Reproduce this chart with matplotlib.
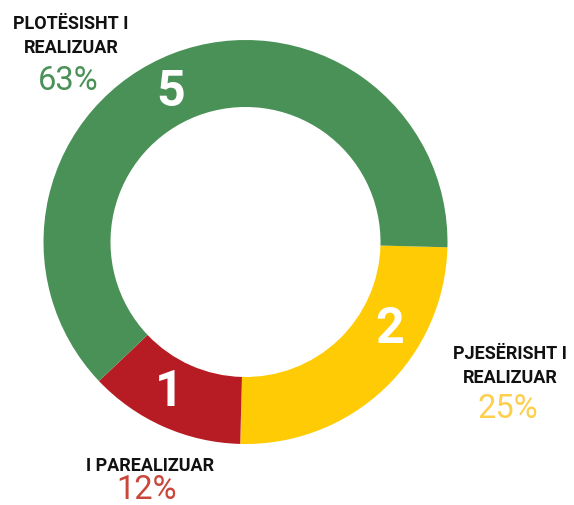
import numpy as np
import matplotlib.pyplot as plt

# data
counts = [2, 1, 5]
names = ["PJESËRISHT I\nREALIZUAR", "I PAREALIZUAR", "PLOTËSISHT I\nREALIZUAR"]
percents = ["25%", "12%", "63%"]
colors = ["#ffcb05", "#b71c24", "#4a9158"]
pct_colors = ["#fdcf4c", "#c9463a", "#4a9158"]

plt.rcParams['font.family'] = ['Roboto', 'DejaVu Sans']

fig = plt.figure(figsize=(5.74, 5.06), dpi=100)
ax = fig.add_axes([0, 0, 1, 1])

cx, cy = 245.5, 263
R = 202
width = 67

ax.pie(counts, colors=colors, startangle=-1.5, counterclock=False,
       radius=R, center=(cx, cy),
       wedgeprops=dict(width=width, edgecolor="none", linewidth=0))

ax.set_aspect("equal")
ax.set_xlim(0, 574)
ax.set_ylim(0, 506)
ax.axis("off")

# count labels inside the ring
num_angles = [-31, -117, 116.5]
num_r = 168
for n, a in zip(counts, num_angles):
    t = np.deg2rad(a)
    ax.text(cx + num_r * np.cos(t), cy + num_r * np.sin(t), str(n),
            ha="center", va="center", color="white",
            fontsize=36, fontweight="bold")

# outside labels
name_pos = [(510, 506 - 366), (150, 506 - 466), (71, 506 - 36)]
pct_pos = [(508, 506 - 409), (147, 506 - 490), (68, 506 - 81)]
for nm, p, c, (nx, ny), (px, py) in zip(names, percents, pct_colors, name_pos, pct_pos):
    ax.text(nx, ny, nm, ha="center", va="center", fontsize=13,
            fontweight="bold", color="#111111", linespacing=1.45)
    ax.text(px, py, p, ha="center", va="center", fontsize=23.5,
            fontweight="normal", color=c)

fig.savefig("out.png", dpi=100)
